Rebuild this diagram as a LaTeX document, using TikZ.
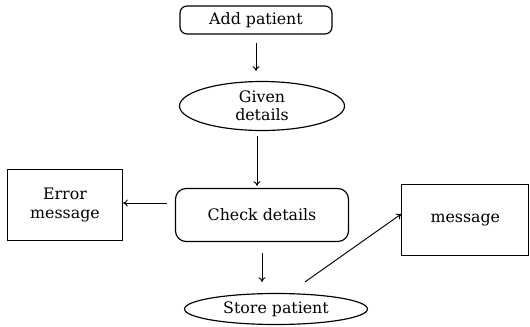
\documentclass[tikz,border=0pt]{standalone}
\usepackage{fontspec}
\setmainfont{DejaVu Serif}
\usetikzlibrary{shapes.geometric, arrows.meta, positioning}

\begin{document}
\begin{tikzpicture}[font=\fontsize{13.5}{15.5}\selectfont]
  \tikzstyle{block} = [rectangle, draw, line width=1pt, align=center]
  \tikzstyle{rblock} = [block, rounded corners=6pt]
  \tikzstyle{oval} = [ellipse, draw, line width=1pt, align=center, inner sep=0pt]
  \tikzstyle{arrow} = [line width=0.8pt, ->, >={To[length=4pt,width=6pt]}]

  \useasboundingbox (0,0) rectangle (15.9,-9.78);

  \node[rblock, minimum width=4.56cm, minimum height=0.84cm] (add) at (7.68,-0.6) {Add patient};
  \node[oval, minimum width=4.95cm, minimum height=1.47cm] (given) at (7.86,-3.18) {Given\\details};
  \node[rblock, rounded corners=9pt, minimum width=5.19cm, minimum height=1.59cm] (check) at (7.86,-6.45) {Check details};
  \node[block, minimum width=3.45cm, minimum height=2.13cm] (error) at (1.95,-6.15) {Error\\message};
  \node[oval, minimum width=5.49cm, minimum height=0.93cm] (store) at (8.28,-9.27) {Store patient};
  \node[block, minimum width=3.81cm, minimum height=2.13cm] (msg) at (13.96,-6.6) {message};

  \draw[arrow, shorten <=0.24cm, shorten >=0.3cm] (add) -- (add |- given.north);
  \draw[arrow, shorten <=0.15cm, shorten >=0.06cm] ([xshift=-0.15cm]given.south) -- ([xshift=-0.15cm]given.south |- check.north);
  \draw[arrow, shorten <=0.24cm] ([yshift=0.36cm]check.west) -- ([yshift=0.36cm]check.west -| error.east);
  \draw[arrow, shorten <=0.33cm, shorten >=0.33cm] (check.south) -- (check.south |- store.north);
  \draw[arrow] ([shift={(0.87cm,0.33cm)}]store.north) -- ([yshift=0.18cm]msg.west);
\end{tikzpicture}
\end{document}
